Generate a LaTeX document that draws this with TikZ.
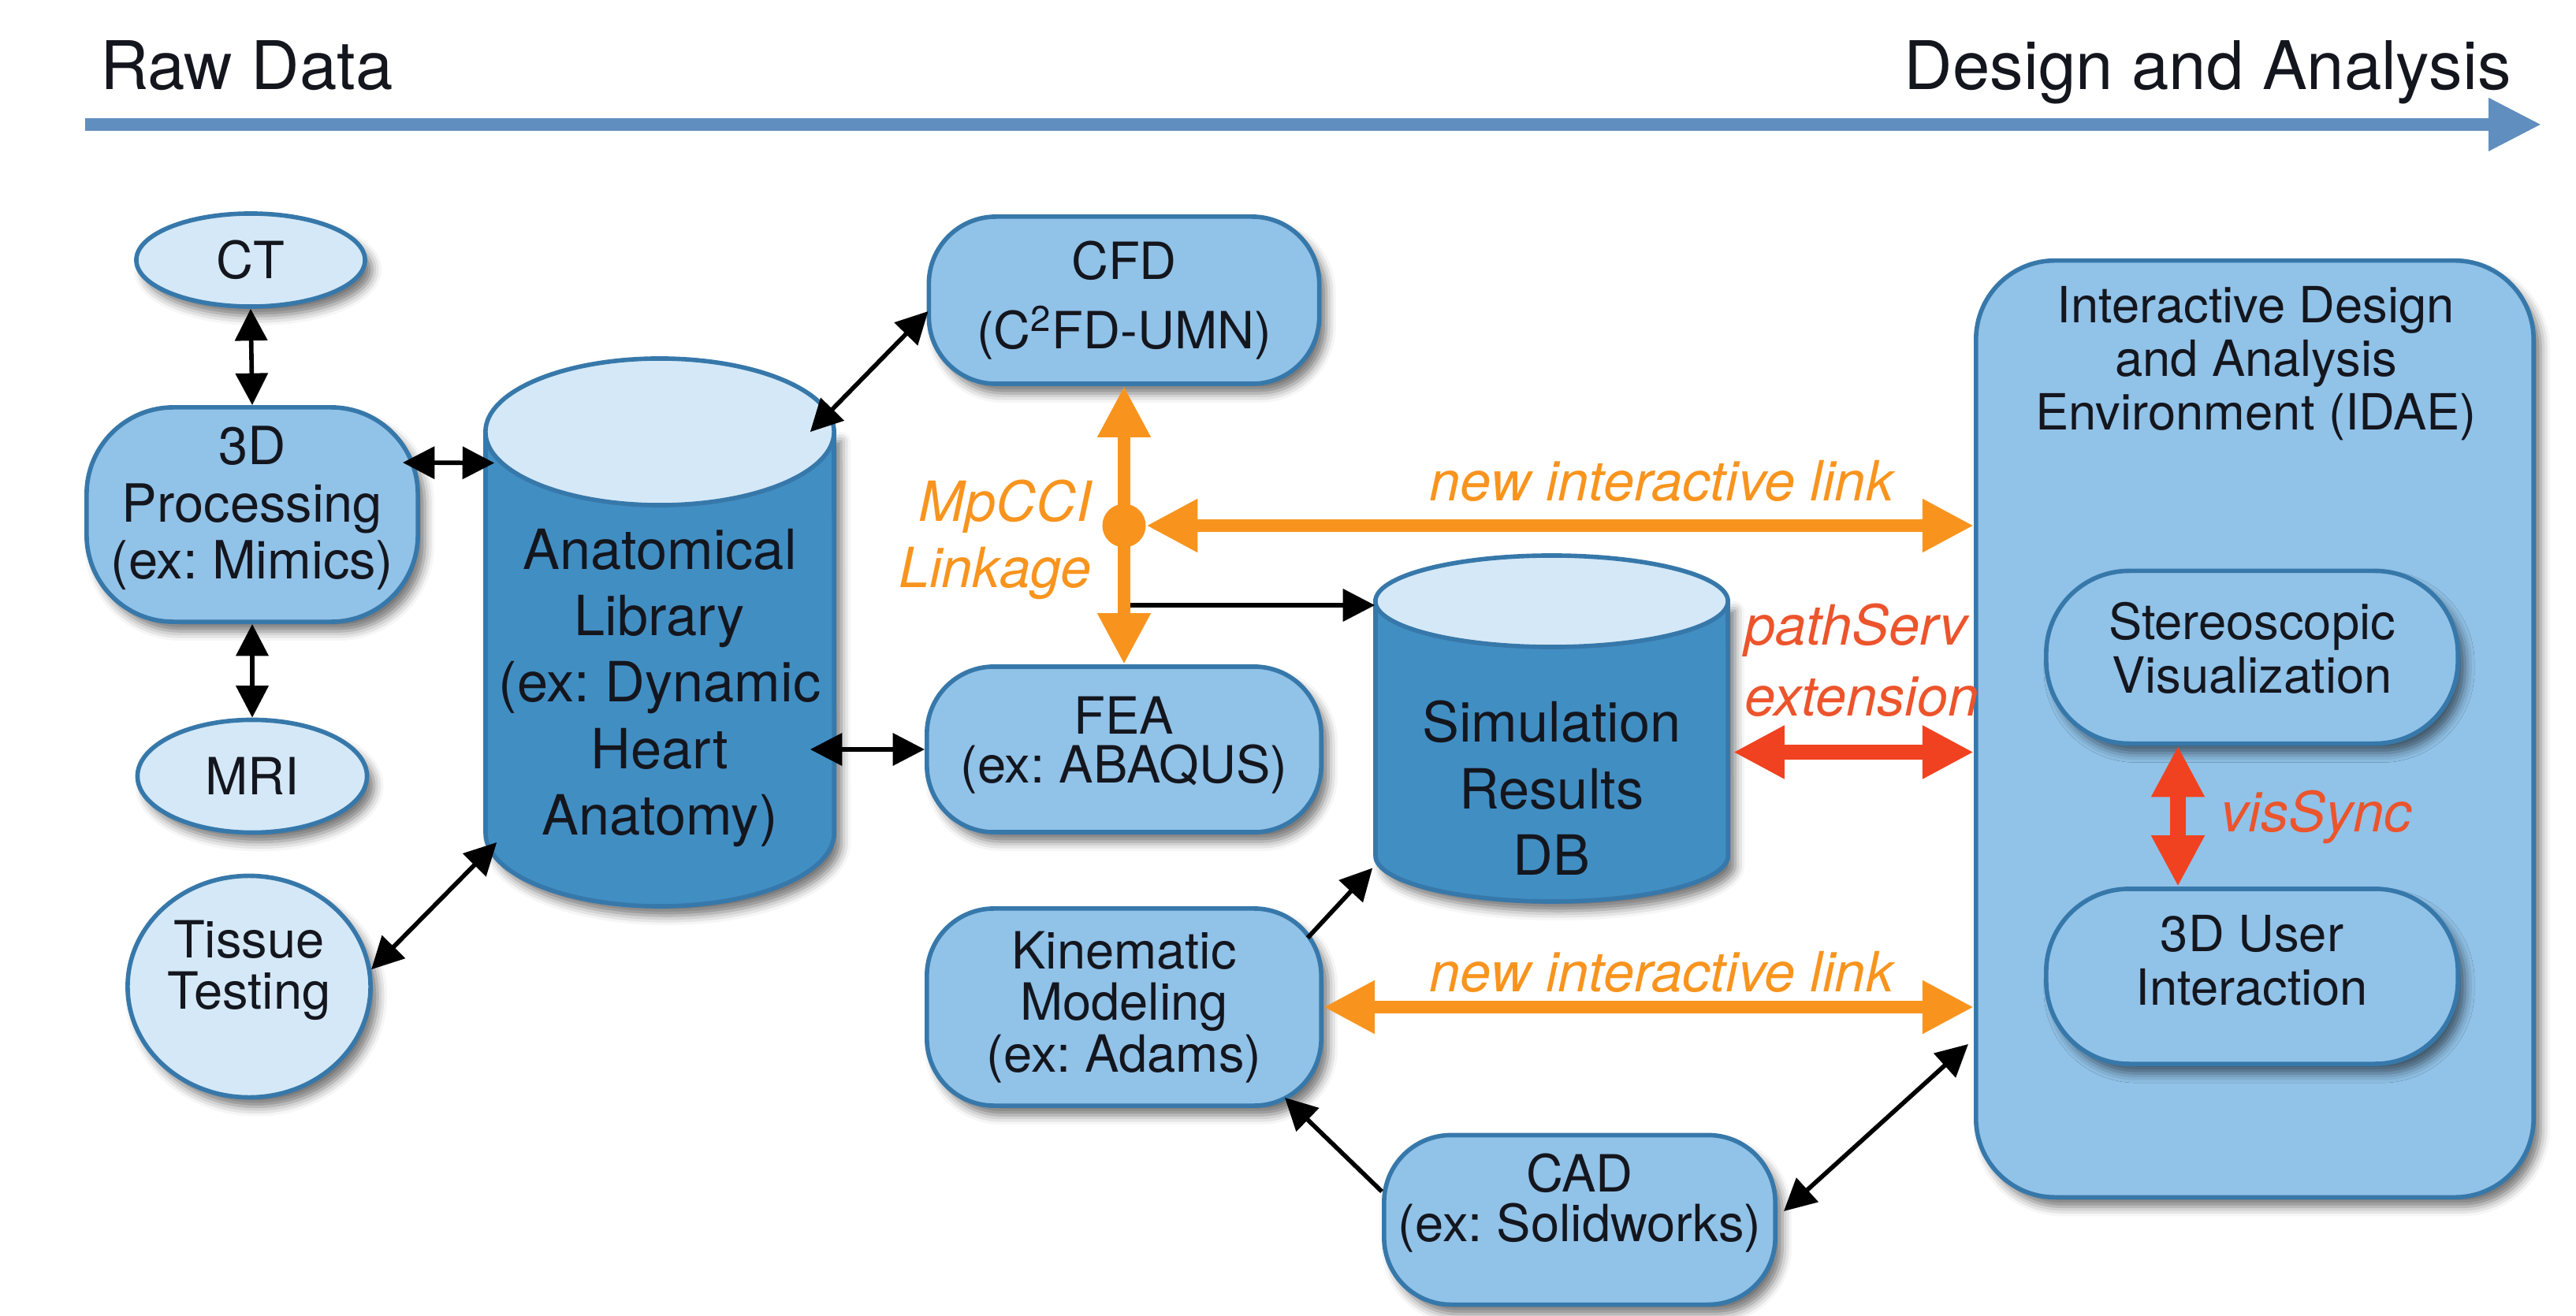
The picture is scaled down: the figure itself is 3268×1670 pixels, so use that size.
\documentclass[tikz,border=0pt]{standalone}
\usepackage{fontspec}
\setmainfont{TeX Gyre Heros}
\usetikzlibrary{arrows.meta,shapes.geometric,shadows.blur,calc}

\definecolor{lightfill}{RGB}{212,232,247}
\definecolor{boxfill}{RGB}{145,194,232}
\definecolor{cylfill}{RGB}{65,142,195}
\definecolor{edge}{RGB}{55,120,170}
\definecolor{hdrblue}{RGB}{96,142,190}
\definecolor{linkorange}{RGB}{248,148,30}
\definecolor{syncred}{RGB}{240,66,32}
\definecolor{labelred}{RGB}{236,84,44}
\definecolor{ink}{RGB}{20,22,30}

\tikzset{
  blacktip/.tip={Triangle[length=11.5pt,width=11.5pt]},
  fattip/.tip={Triangle[length=18.5pt,width=18pt]},
  axistip/.tip={Triangle[length=19pt,width=18pt]},
  softshadow/.style={blur shadow={shadow xshift=0.09cm,shadow yshift=-0.12cm,
      shadow blur radius=0.12cm,shadow opacity=55}},
  base/.style={draw=edge,line width=1.6pt,text=ink,align=center,inner sep=0pt,softshadow},
  oval/.style={base,ellipse,fill=lightfill},
  pill/.style={base,rectangle,rounded corners=0.85cm,fill=boxfill},
  ghost/.style={inner sep=0pt,draw=none},
  boxfont/.style={font=\fontsize{18.5}{19}\selectfont},
  cylfont/.style={font=\fontsize{20}{24}\selectfont},
  idaefont/.style={font=\fontsize{18}{19.4}\selectfont},
  linkfont/.style={font=\fontsize{20}{24}\selectfont\itshape},
  blk/.style={draw=black,line width=1.6pt},
  orangelink/.style={draw=linkorange,line width=4.8pt},
  redlink/.style={draw=syncred,line width=5.6pt},
  cylbody/.style={fill=cylfill,draw=edge,line width=1.6pt},
  cyltop/.style={fill=lightfill,draw=edge,line width=1.6pt},
}

\begin{document}
\frenchspacing
\begin{tikzpicture}[x=0.01cm,y=-0.01cm]
\useasboundingbox (0,0) rectangle (3268,1670);

% ---- header: data flow axis
\node[anchor=base west,text=ink,font=\fontsize{24.2}{26}\selectfont] (rawdata) at (115,114) {Raw Data};
\node[anchor=base east,text=ink,font=\fontsize{24.2}{26}\selectfont] (designhdr) at (3198,114) {Design and Analysis};
\coordinate (axisL) at (108,158);
\coordinate (axisR) at (3224,158);
\draw[draw=hdrblue,line width=4.3pt,-{axistip[fill=hdrblue]}] (axisL) -- (axisR);

% ---- raw data sources
\node[oval,minimum width=2.9cm,minimum height=1.18cm,boxfont] (ct) at (318,330) {CT};
\node[pill,rounded corners=1.1cm,minimum width=4.2cm,minimum height=2.72cm,text depth=8.5pt,
      font=\fontsize{19}{20.6}\selectfont] (proc) at (320,653) {3D\\Processing\\(ex: Mimics)};
\node[oval,minimum width=2.91cm,minimum height=1.43cm,boxfont] (mri) at (320,985) {MRI};
\node[oval,minimum width=3.08cm,minimum height=2.81cm,text depth=16pt,
      font=\fontsize{18.5}{18.5}\selectfont] (tissue) at (316,1252) {Tissue\\Testing};

% ---- anatomical library (cylinder)
\path[cylbody,softshadow] (616,548) -- (616,1057)
  arc[start angle=180,end angle=360,x radius=2.21cm,y radius=0.93cm] -- (1058,548) -- cycle;
\draw[cyltop] (837,548) ellipse[x radius=2.21cm,y radius=0.93cm];
\node[ghost,minimum width=4.42cm,minimum height=6.95cm] (anat) at (837,802.5) {};
\node[ghost,text=ink,align=center,cylfont] (anattext) at (837,873)
  {Anatomical\\Library\\(ex: Dynamic\\Heart\\Anatomy)};

% ---- solvers
\node[pill,minimum width=4.95cm,minimum height=2.12cm,font=\fontsize{18.5}{25}\selectfont]
  (cfd) at (1426,381) {CFD\\(C\textsuperscript{2}FD-UMN)};
\node[pill,minimum width=5.0cm,minimum height=2.1cm,text depth=7pt,font=\fontsize{18.5}{17.5}\selectfont]
  (fea) at (1426,951) {FEA\\(ex: ABAQUS)};
\node[pill,minimum width=5.0cm,minimum height=2.5cm,font=\fontsize{18.5}{18.7}\selectfont]
  (kin) at (1426,1278) {Kinematic\\Modeling\\(ex: Adams)};
\node[pill,minimum width=4.96cm,minimum height=2.15cm,text depth=16pt,font=\fontsize{18.5}{17.8}\selectfont]
  (cad) at (2004,1548) {CAD\\(ex: Solidworks)};

% ---- simulation results database (cylinder)
\path[cylbody,softshadow] (1745,763) -- (1745,1086)
  arc[start angle=180,end angle=360,x radius=2.235cm,y radius=0.58cm] -- (2192,763) -- cycle;
\draw[cyltop] (1968.5,763) ellipse[x radius=2.235cm,y radius=0.58cm];
\node[ghost,minimum width=4.47cm,minimum height=4.39cm] (simdb) at (1968.5,924.5) {};
\node[ghost,text=ink,align=center,cylfont] (simdbtext) at (1968.5,1000)
  {Simulation\\Results\\DB};

% ---- interactive design and analysis environment
\node[pill,rounded corners=1cm,minimum width=7.07cm,minimum height=11.88cm] (idae) at (2860.5,925) {};
\node[ghost,text=ink,align=center,idaefont] (idaetitle) at (2862,461)
  {Interactive Design\\and Analysis\\Environment (IDAE)};
\node[pill,rounded corners=1.05cm,minimum width=5.22cm,minimum height=2.19cm,text depth=7pt,idaefont]
  (stereo) at (2857,834) {Stereoscopic\\Visualization};
\node[pill,rounded corners=1.05cm,minimum width=5.22cm,minimum height=2.22cm,text depth=11.5pt,idaefont]
  (user3d) at (2857,1239) {3D User\\Interaction};

% ---- black data connectors
\draw[blk,blacktip-blacktip] (ct.south) -- (proc.north);
\draw[blk,blacktip-blacktip] (proc.south) -- (mri.north);
\draw[blk,blacktip-blacktip] ($(proc.east)+(-22,-66)$) -- ($(anat.west)+(12,-215)$);
\draw[blk,blacktip-blacktip] ($(anat.north east)+(-31,94)$) -- ($(cfd.west)+(2,14)$);
\draw[blk,blacktip-blacktip] ($(anat.east)+(-31,148.5)$) -- (fea.west);
\draw[blk,blacktip-blacktip] (tissue.8) -- ($(anat.west)+(15,266.5)$);
\coordinate (tap) at (1426,768);
\draw[blk,-blacktip] (tap) -- (simdb.west |- tap);
\draw[blk,-blacktip] ($(kin.north east)+(-20,40)$) -- ($(simdb.west)+(-3,177)$);
\draw[blk,-blacktip] ($(cad.west)+(0,-36)$) -- ($(kin.south east)+(-49,-13)$);
\draw[blk,blacktip-blacktip] ($(cad.east)+(8,-11)$) -- ($(idae.west)+(-7,400)$);

% ---- MpCCI coupling and interactive links
\draw[orangelink,{fattip[fill=linkorange]}-{fattip[fill=linkorange]}] (cfd.south) -- (fea.north);
\node[circle,fill=linkorange,minimum size=0.55cm,inner sep=0pt] (hub) at (1426,667) {};
\draw[orangelink,{fattip[fill=linkorange]}-{fattip[fill=linkorange]}] (hub.east) -- (idae.west |- hub);
\draw[orangelink,{fattip[fill=linkorange]}-{fattip[fill=linkorange]}] (kin.east) -- (idae.west |- kin.east);
\coordinate (dbport) at ($(simdb.east)+(6,30)$);
\draw[redlink,{fattip[fill=syncred]}-{fattip[fill=syncred]}] (dbport) -- (idae.west |- dbport);
\draw[redlink,{fattip[fill=syncred]}-{fattip[fill=syncred]}] ($(stereo.south)+(-94,0)$) -- ($(user3d.north)+(-94,0)$);

% ---- link labels
\node[anchor=base east,text=linkorange,linkfont] (mpcci) at (1397,662) {MpCCI};
\node[anchor=base east,text=linkorange,linkfont] (linkage) at (1397,745) {Linkage};
\node[anchor=base,text=linkorange,linkfont] (toplink) at (2108,636) {new interactive link};
\node[anchor=base,text=linkorange,linkfont] (lowlink) at (2108,1258) {new interactive link};
\node[anchor=base west,text=labelred,linkfont] (pathserv) at (2201,818) {pathServ};
\node[anchor=base west,text=labelred,linkfont] (extension) at (2201,908) {extension};
\node[anchor=base west,text=labelred,linkfont] (vissync) at (2805,1055) {visSync};
\end{tikzpicture}
\end{document}
